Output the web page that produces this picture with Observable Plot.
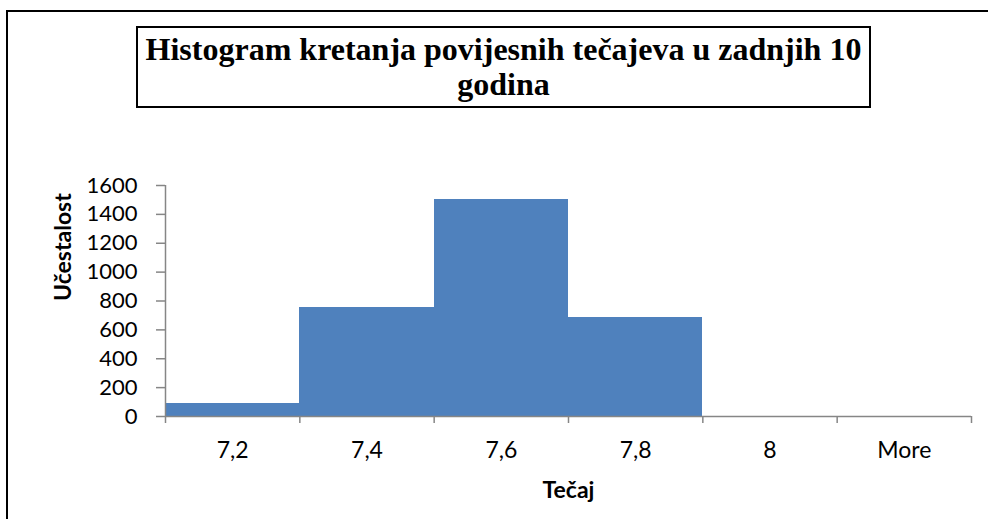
<!DOCTYPE html>
<html>
<head>
<meta charset="utf-8">
<script src="https://cdn.jsdelivr.net/npm/d3@7"></script>
<script src="https://cdn.jsdelivr.net/npm/@observablehq/plot@0.6"></script>
<style>
  html, body { margin: 0; padding: 0; width: 988px; height: 519px; overflow: hidden; background: #fff; }
  #frame { position: absolute; left: 6px; top: 10px; width: 1200px; height: 800px; border-top: 2px solid #000; border-left: 2px solid #000; box-sizing: border-box; }
  #title { position: absolute; left: 136px; top: 26px; width: 735px; height: 82px; border: 2px solid #000; box-sizing: border-box;
           font-family: "Liberation Serif", "Times New Roman", serif; font-weight: bold; font-size: 32px; line-height: 35px;
           text-align: center; padding-top: 4px; color: #000; background: #fff; white-space: nowrap; }
  #chart { position: absolute; left: 0; top: 0; }
</style>
</head>
<body>
<div id="frame"></div>
<div id="chart"></div>
<div id="title">Histogram kretanja povijesnih tečajeva u zadnjih 10<br>godina</div>
<script>
const categories = ["7,2", "7,4", "7,6", "7,8", "8", "More"];
const counts = [92, 755, 1500, 683, 0, 0];
const yTicks = [0, 200, 400, 600, 800, 1000, 1200, 1400, 1600];
const xLabel = "Tečaj";
const yLabel = "Učestalost";

const rows = categories.map((c, i) => ({i, c, count: counts[i]}));
const edges = d3.range(0, categories.length + 1);
const centers = categories.map((c, i) => i + 0.5);
const grey = "#868686";

const chart = Plot.plot({
  width: 988,
  height: 519,
  marginLeft: 165,
  marginRight: 17,
  marginTop: 185,
  marginBottom: 103,
  style: {fontFamily: "Lato, sans-serif", fontSize: "22px", color: "#000", background: "transparent", overflow: "visible"},
  x: {type: "linear", domain: [0, categories.length]},
  y: {domain: [0, 1600]},
  marks: [
    Plot.rectY(rows, {x1: "i", x2: d => d.i + 1, y: "count", fill: "#4f81bd", shapeRendering: "crispEdges"}),
    Plot.ruleY([0], {stroke: grey, strokeWidth: 1.5}),
    Plot.ruleX([0], {y1: 0, y2: 1600, stroke: grey, strokeWidth: 1.5}),
    Plot.axisY(yTicks, {tickSize: 9, tickPadding: 19, stroke: grey, strokeWidth: 1.5, fill: "#000", fontSize: 22, label: null, tickFormat: d => String(d)}),
    Plot.axisX(edges, {tickSize: 7, stroke: grey, strokeWidth: 1.5, tickFormat: () => "", label: null}),
    Plot.axisX(centers, {tickSize: 0, tickPadding: 25, fill: "#000", fontSize: 23, tickFormat: d => categories[Math.floor(d)], label: null}),
    Plot.text([xLabel], {frameAnchor: "bottom", dy: 81, fontWeight: "bold", fontSize: 23, fill: "#000"}),
    Plot.text([yLabel], {frameAnchor: "left", dx: -102, rotate: -90, fontWeight: "bold", fontSize: 23, fill: "#000"})
  ]
});
document.getElementById("chart").appendChild(chart);
</script>
</body>
</html>
